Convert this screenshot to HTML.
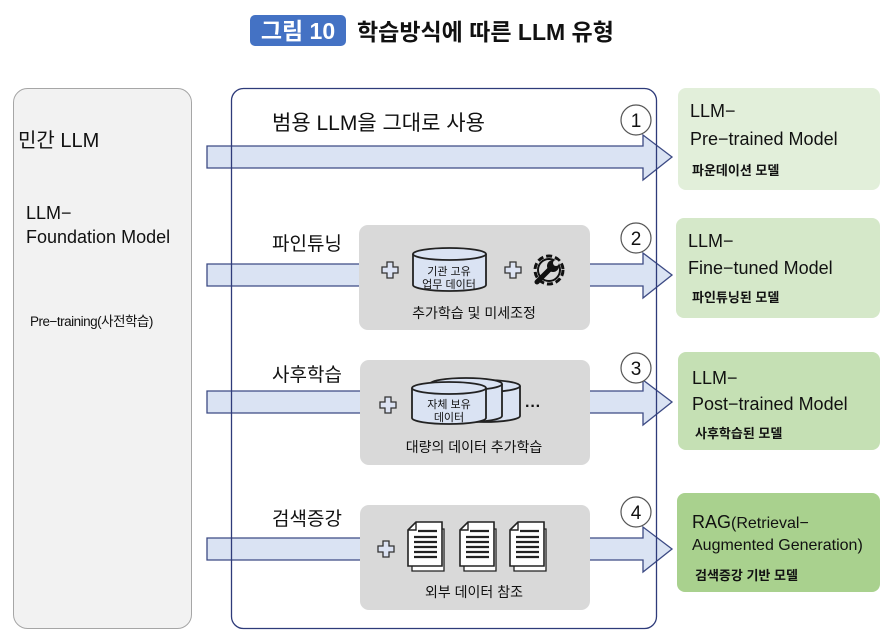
<!DOCTYPE html>
<html><head><meta charset="utf-8"><style>
html,body{margin:0;padding:0;background:#fff;}
svg{display:block;}
text{font-family:"Liberation Sans","Noto Sans CJK KR",sans-serif;fill:#111;}
</style></head><body>
<svg width="893" height="641" viewBox="0 0 893 641" xmlns="http://www.w3.org/2000/svg">
<defs>
<g id="plus"><path d="M5,0 h6 v5 h5 v6 h-5 v5 h-6 v-5 h-5 v-6 h5 z" fill="#dce3f3" stroke="#333" stroke-width="1.3"/></g>
<g id="doc">
<path d="M6,4 h26 v42 h-32 v-36 z" fill="#fff" stroke="#222" stroke-width="1.3" transform="translate(4,3)"/>
<path d="M8,0 h26 v44 h-34 v-36 z" fill="#fff" stroke="#222" stroke-width="1.6"/>
<path d="M0,8 h8 v-8" fill="none" stroke="#222" stroke-width="1.4"/>
<g stroke="#222" stroke-width="2.2"><line x1="10" y1="9" x2="29" y2="9"/><line x1="6" y1="15" x2="29" y2="15"/><line x1="6" y1="20" x2="29" y2="20"/><line x1="6" y1="25" x2="29" y2="25"/><line x1="6" y1="30" x2="29" y2="30"/><line x1="6" y1="35" x2="29" y2="35"/></g>
</g>
</defs>
<!-- title -->
<rect x="250" y="15" width="96" height="31" rx="5" fill="#4472c4"/>
<text x="298" y="39" text-anchor="middle" font-size="23" font-weight="bold" style="fill:#fff">그림 10</text>
<text x="357" y="40" font-size="23" font-weight="bold">학습방식에 따른 LLM 유형</text>

<!-- left panel -->
<rect x="13.5" y="88.5" width="178" height="540" rx="14" fill="#f2f2f2" stroke="#a6a6a6" stroke-width="1"/>
<text x="18" y="147" font-size="20">민간 LLM</text>
<text x="26" y="219" font-size="18">LLM−</text>
<text x="26" y="243" font-size="18">Foundation Model</text>
<text x="30" y="326" font-size="13.5" letter-spacing="-0.5">Pre−training(사전학습)</text>

<!-- arrows -->
<g fill="#dae3f3" stroke="#3c4a84" stroke-width="1.3">
<polygon points="207,146 643,146 643,135 672,157 643,180 643,168 207,168"/>
<polygon points="207,264 643,264 643,253 672,275 643,298 643,286 207,286"/>
<polygon points="207,391 643,391 643,380 672,402 643,425 643,413 207,413"/>
<polygon points="207,538 643,538 643,527 672,549 643,572 643,560 207,560"/>
</g>

<!-- middle panel border -->
<rect x="231.5" y="88.5" width="425" height="540" rx="12" fill="none" stroke="#2e3b7a" stroke-width="1.3"/>

<text x="272" y="130" font-size="21">범용 LLM을 그대로 사용</text>
<text x="272" y="250" font-size="19">파인튜닝</text>
<text x="272" y="381" font-size="19">사후학습</text>
<text x="272" y="525" font-size="19">검색증강</text>

<!-- gray boxes -->
<rect x="359" y="225" width="231" height="105" rx="9" fill="#d9d9d9"/>
<rect x="360" y="360" width="230" height="105" rx="9" fill="#d9d9d9"/>
<rect x="360" y="505" width="230" height="105" rx="9" fill="#d9d9d9"/>

<!-- box2 content -->
<use href="#plus" x="382" y="262"/>
<path d="M413,254 v31 a36.5,6 0 0 0 73,0 v-31" fill="#dae3f3" stroke="#222" stroke-width="1.8"/>
<ellipse cx="449.5" cy="254" rx="36.5" ry="6" fill="#dae3f3" stroke="#222" stroke-width="1.8"/>
<text x="449" y="275" text-anchor="middle" font-size="11">기관 고유</text>
<text x="449" y="288" text-anchor="middle" font-size="11">업무 데이터</text>
<use href="#plus" x="505" y="262"/>
<!-- gear -->
<g transform="translate(549,270)">
<circle r="14" fill="none" stroke="#111" stroke-width="3" stroke-dasharray="6 3"/>
<circle r="11" fill="none" stroke="#111" stroke-width="2"/>
<path d="M-12,12 L2,-2" stroke="#111" stroke-width="5" stroke-linecap="round"/>
<circle cx="4" cy="-4" r="6" fill="#111"/>
<circle cx="7" cy="-7" r="3" fill="#d9d9d9"/>
</g>
<text x="474" y="318" text-anchor="middle" font-size="14">추가학습 및 미세조정</text>

<!-- box3 content -->
<use href="#plus" x="380" y="397"/>
<g fill="#dae3f3" stroke="#222" stroke-width="1.8">
<path d="M448,386 v30 a36,6 0 0 0 72,0 v-30" /><ellipse cx="484" cy="386" rx="36" ry="6"/>
<path d="M430,384 v32 a36,6 0 0 0 72,0 v-32" /><ellipse cx="466" cy="384" rx="36" ry="6"/>
<path d="M412,388 v30 a37,6 0 0 0 74,0 v-30" /><ellipse cx="449" cy="388" rx="37" ry="6"/>
</g>
<text x="449" y="408" text-anchor="middle" font-size="11">자체 보유</text>
<text x="449" y="421" text-anchor="middle" font-size="11">데이터</text>
<text x="525" y="411" font-size="16" font-weight="bold">···</text>
<text x="474" y="452" text-anchor="middle" font-size="14">대량의 데이터 추가학습</text>

<!-- box4 content -->
<use href="#plus" x="378" y="541"/>
<use href="#doc" x="408" y="522"/>
<use href="#doc" x="460" y="522"/>
<use href="#doc" x="510" y="522"/>
<text x="474" y="597" text-anchor="middle" font-size="14">외부 데이터 참조</text>

<!-- circles -->
<g fill="#fff" stroke="#555" stroke-width="1.2">
<circle cx="636" cy="120" r="15"/><circle cx="636" cy="238" r="15"/>
<circle cx="636" cy="368" r="15"/><circle cx="636" cy="512" r="15"/>
</g>
<g font-size="19" text-anchor="middle">
<text x="636" y="127">1</text><text x="636" y="245">2</text>
<text x="636" y="375">3</text><text x="636" y="519">4</text>
</g>

<!-- right boxes -->
<rect x="678" y="88" width="202" height="102" rx="8" fill="#e2efda"/>
<text x="690" y="117" font-size="18">LLM−</text>
<text x="690" y="145" font-size="18">Pre−trained Model</text>
<text x="692" y="175" font-size="13" font-weight="bold">파운데이션 모델</text>

<rect x="676" y="218" width="204" height="100" rx="8" fill="#d5e8c9"/>
<text x="688" y="247" font-size="18">LLM−</text>
<text x="688" y="274" font-size="18">Fine−tuned Model</text>
<text x="692" y="302" font-size="13" font-weight="bold">파인튜닝된 모델</text>

<rect x="678" y="352" width="202" height="98" rx="8" fill="#c5e0b4"/>
<text x="692" y="384" font-size="18">LLM−</text>
<text x="692" y="410" font-size="18">Post−trained Model</text>
<text x="695" y="438" font-size="13" font-weight="bold">사후학습된 모델</text>

<rect x="677" y="493" width="203" height="99" rx="8" fill="#a9d18e"/>
<text x="692" y="528" font-size="16"><tspan font-size="18">RAG</tspan>(Retrieval−</text>
<text x="692" y="550" font-size="16">Augmented Generation)</text>
<text x="695" y="580" font-size="13" font-weight="bold">검색증강 기반 모델</text>
</svg>
</body></html>
